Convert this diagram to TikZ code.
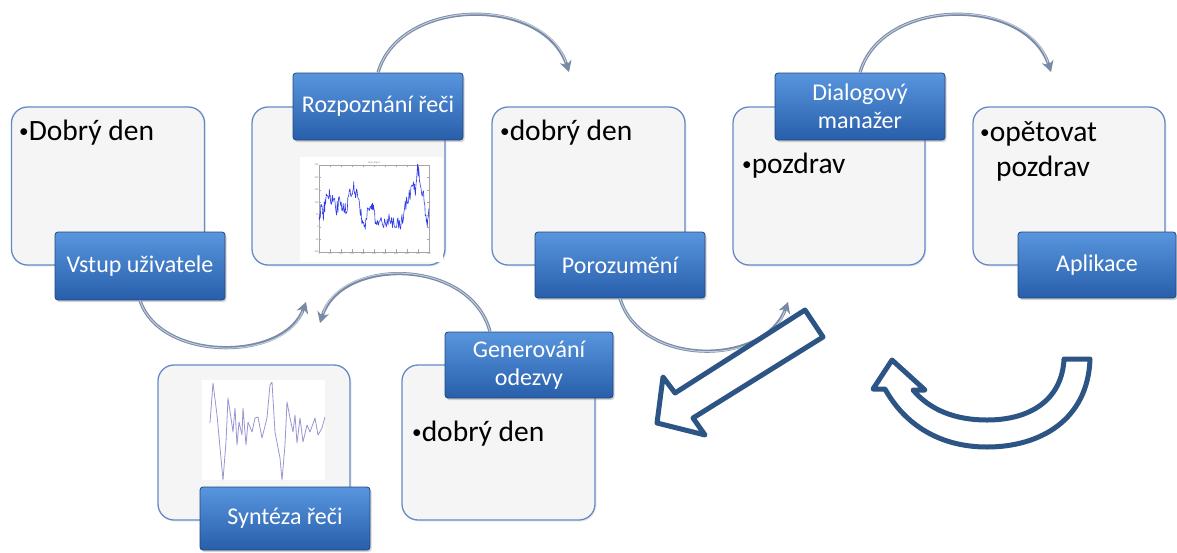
\documentclass[tikz,border=0pt]{standalone}
\usepackage{fontspec}
\setmainfont{Carlito}
\usetikzlibrary{arrows.meta,shadows,calc}

\definecolor{cardedge}{RGB}{100,138,198}
\definecolor{cardfill}{RGB}{245,245,245}
\definecolor{tagtop}{RGB}{88,150,222}
\definecolor{tagbot}{RGB}{40,94,170}
\definecolor{tagedge}{RGB}{32,70,128}
\definecolor{flow}{RGB}{120,138,165}
\definecolor{flowlight}{RGB}{195,206,222}
\definecolor{bigarrow}{RGB}{44,84,132}
\definecolor{sig}{RGB}{50,60,230}
\definecolor{synth}{RGB}{150,150,210}

% small list bullet
\newcommand\listdot{\raisebox{0.1em}{\scalebox{0.65}{•}}}

\tikzset{
  card/.style={draw=cardedge, line width=1.3pt, fill=cardfill, rounded corners=16pt,
    drop shadow={opacity=0.15, shadow xshift=1.5pt, shadow yshift=-1.5pt}},
  tag/.style={draw=tagedge, line width=0.8pt, top color=tagtop, bottom color=tagbot,
    rounded corners=3pt, text=white, font=\fontsize{24}{28}\selectfont, align=center,
    inner sep=0pt, drop shadow={opacity=0.35, shadow xshift=1.5pt, shadow yshift=-2pt}},
  bullettext/.style={anchor=base west, inner sep=0pt, font=\fontsize{29.5}{35}\selectfont},
  flowarrow/.style={draw=flow, line width=3.2pt, -{Stealth[length=11pt,width=12pt]},
    postaction={draw=flowlight, line width=1pt, shorten >=10pt, arrows=-}},
  outline/.style={draw=bigarrow, line width=5pt, fill=white, line join=round},
  axis/.style={draw=gray!70, line width=0.3pt},
  ticklab/.style={font=\fontsize{2.5}{3}\selectfont, text=gray, inner sep=0.5pt},
}

\begin{document}
\begin{tikzpicture}[x=1pt,y=-1pt]
\useasboundingbox (0,0) rectangle (1177,552);

% content cards
\node[card, minimum width=193pt, minimum height=158pt] (c1) at (108,186) {};
\node[card, minimum width=193pt, minimum height=158pt] (c2) at (348.5,186) {};
\node[card, minimum width=193pt, minimum height=158pt] (c3) at (588.5,186) {};
\node[card, minimum width=192pt, minimum height=158pt] (c4) at (829,186) {};
\node[card, minimum width=192pt, minimum height=158pt] (c5) at (1069,186) {};
\node[card, minimum width=192pt, minimum height=155pt] (c6) at (254,442.5) {};
\node[card, minimum width=193pt, minimum height=155pt] (c7) at (498.5,442.5) {};

% noisy signal plot
\node[fill=white, minimum width=143pt, minimum height=105pt, inner sep=0pt] (plotA) at (371.5,209.5) {};
\begin{scope}[shift={(319,227.1)}, x=0.22pt, y=0.2486pt]
  \draw[axis] (0,-100) rectangle (500,250);
  \foreach \t in {0,50,...,500} {
    \draw[axis] (\t,-100) -- (\t,-90);
    \draw[axis] (\t,250) -- (\t,240);
    \node[ticklab, below] at (\t,-100) {\t};
  }
  \foreach \t in {-100,-50,...,250} {
    \draw[axis] (0,\t) -- (8,\t);
    \draw[axis] (500,\t) -- (492,\t);
    \node[ticklab, left] at (0,\t) {\t};
  }
  \node[ticklab, above] at (250,250) {Noisy Signal};
  \pgfmathsetseed{42}
  \draw[sig, line width=0.6pt, line join=round] (0,40)
    \foreach \xa/\ya/\xb/\yb in {0/40/10/70, 10/70/20/50, 20/50/30/110, 30/110/45/130,
      45/130/55/110, 55/110/65/120, 65/120/80/70, 80/70/95/110, 95/110/110/80,
      110/80/125/60, 125/60/135/140, 135/140/150/150, 150/150/160/160, 160/160/170/130,
      170/130/185/90, 185/90/195/40, 195/40/205/0, 205/0/212/10, 212/10/220/90,
      220/90/235/90, 235/90/245/80, 245/80/258/20, 258/20/270/20, 270/20/290/20,
      290/20/310/30, 310/30/330/20, 330/20/350/20, 350/20/365/10, 365/10/380/30,
      380/30/395/90, 395/90/410/130, 410/130/430/160, 430/160/440/150, 440/150/448/240,
      448/240/455/200, 455/200/465/160, 465/160/475/120, 475/120/485/40, 485/40/492/-10,
      492/-10/500/90}
    { \foreach \k in {1,...,5} { -- ({\xa+(\xb-\xa)*\k/5}, {\ya+(\yb-\ya)*\k/5+28*rand}) } };
\end{scope}

% synthesized waveform
\node[fill=white, minimum width=123pt, minimum height=100pt, inner sep=0pt] (plotB) at (263.5,430) {};
\draw[synth, line width=0.8pt, line join=round]
  (210,423) -- (213,383) -- (217,415) -- (223,480) -- (226,442) -- (228,398) -- (231,418)
  -- (233,432) -- (235,408) -- (237,445) -- (239,422) -- (242,435) -- (243,408) -- (246,445)
  -- (248,422) -- (252,432) -- (255,418) -- (258,417) -- (262,438) -- (267,418) -- (270,385)
  -- (272,382) -- (275,432) -- (280,458) -- (282,480) -- (285,445) -- (287,402) -- (290,418)
  -- (293,432) -- (295,415) -- (297,443) -- (300,418) -- (303,442) -- (307,425) -- (310,432)
  -- (315,418) -- (318,435) -- (322,428) -- (325,417);

% card texts
\node[bullettext] (t1) at (19,140) {\listdot Dobrý den};
\node[bullettext] (t3) at (500,140) {\listdot dobrý den};
\node[bullettext] (t4) at (742,173) {\listdot pozdrav};
\node[bullettext] (t5) at (980,141) {\listdot opětovat};
\node[bullettext] (t5b) at (996,176) {pozdrav};
\node[bullettext] (t7) at (412,441) {\listdot dobrý den};

% stage labels
\node[tag, minimum width=170pt, minimum height=68pt] (l1) at (140,266) {Vstup uživatele};
\node[tag, minimum width=170pt, minimum height=67pt] (l2) at (378,106.5) {Rozpoznání řeči};
\node[tag, minimum width=170pt, minimum height=66pt] (l3) at (620,265) {Porozumění};
\node[tag, minimum width=170pt, minimum height=67pt] (l4) at (860,106.5) {Dialogový\\manažer};
\node[tag, minimum width=158pt, minimum height=66pt] (l5) at (1097,265) {Aplikace};
\node[tag, minimum width=170pt, minimum height=63pt] (l6) at (285,518.5) {Syntéza řeči};
\node[tag, minimum width=168pt, minimum height=66pt] (l7) at (529,365) {Generování\\odezvy};

% flow arrows between stages
\coordinate (e1) at (306,302);
\coordinate (e2) at (569,72);
\coordinate (e3) at (788,302);
\coordinate (e4) at (1051,72);
\coordinate (e5) at (320,323);
\draw[flowarrow] (l1.south) .. controls (160,362) and (285,362) .. (e1);
\draw[flowarrow] (l2.north) .. controls (400,-4) and (545,-4) .. (e2);
\draw[flowarrow] (l3.south) .. controls (640,367) and (765,367) .. (e3);
\draw[flowarrow] (l4.north) .. controls (882,-4) and (1027,-4) .. (e4);
\draw[flowarrow] ([xshift=-39pt]l7.north) .. controls (470,257) and (340,257) .. (e5);

% large outlined arrows
\draw[outline] (805,310) -- (823,337) -- (693,418) -- (705,435) -- (657,423)
  -- (663,377) -- (675,393) -- cycle;
\draw[outline] (1064,359) -- (1090,359)
  .. controls (1088,420) and (1040,447) .. (987,447)
  .. controls (940,447) and (905,425) .. (885,389)
  -- (873,389) -- (892,360) -- (925,390) -- (913,390)
  .. controls (930,410) and (955,420) .. (987,420)
  .. controls (1030,420) and (1062,400) .. (1064,359) -- cycle;
\end{tikzpicture}
\end{document}
